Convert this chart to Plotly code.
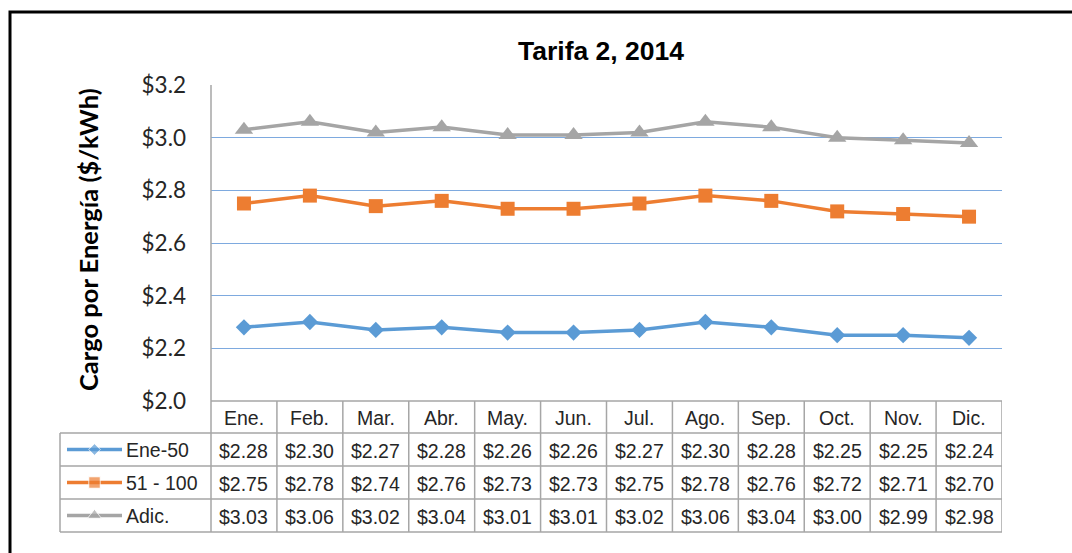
import plotly.graph_objects as go

# ---------------- data ----------------
months = ["Ene.", "Feb.", "Mar.", "Abr.", "May.", "Jun.", "Jul.", "Ago.", "Sep.", "Oct.", "Nov.", "Dic."]
series_names = ["Ene-50", "51 - 100", "Adic."]
ene50 = [2.28, 2.30, 2.27, 2.28, 2.26, 2.26, 2.27, 2.30, 2.28, 2.25, 2.25, 2.24]
s51_100 = [2.75, 2.78, 2.74, 2.76, 2.73, 2.73, 2.75, 2.78, 2.76, 2.72, 2.71, 2.70]
adic = [3.03, 3.06, 3.02, 3.04, 3.01, 3.01, 3.02, 3.06, 3.04, 3.00, 2.99, 2.98]
title_text = "Tarifa 2, 2014"
ytitle_text = "Cargo por Energía ($/kWh)"

# ---------------- styles ----------------
W, H = 1072, 553
colors = ["#5B9BD5", "#ED7D31", "#A5A5A5"]
symbols = ["diamond", "square", "triangle-up"]
msizes = [12.5, 14, 16]
legend_msizes = [9, 11.5, 12.5]
series = [ene50, s51_100, adic]
grid_col = "#7EAADF"
tbl_col = "#A6A6A6"
TFONT = "Arial, Liberation Sans, sans-serif"
CFONT = "Lato, Carlito, Calibri, sans-serif"


def px(x):
    return x / W


def py(y):
    return 1 - y / H


# pixel layout
PL, PR, PT, PB = 211, 1002, 85, 401
TL = 60
rows_y = [401, 433, 466, 499, 532]

fig = go.Figure()
xs = list(range(len(months)))
for name, vals, c, s, ms in zip(series_names, series, colors, symbols, msizes):
    fig.add_trace(go.Scatter(
        x=xs, y=vals, name=name, mode="lines+markers",
        line=dict(color=c, width=3.5),
        marker=dict(symbol=s, size=ms, color=c),
        showlegend=False, hoverinfo="x+y",
        xaxis="x", yaxis="y",
    ))

# legend swatches inside the table's first column
for i, (c, s, ms) in enumerate(zip(colors, symbols, legend_msizes)):
    fig.add_trace(go.Scatter(
        x=[7, 34.5, 62], y=[i + 0.5] * 3, mode="lines+markers",
        line=dict(color=c, width=3.5),
        marker=dict(symbol=s, size=[0, ms, 0], color=c),
        showlegend=False, hoverinfo="skip",
        xaxis="x2", yaxis="y2",
    ))

shapes = []
# outer black frame (right/bottom beyond the visible crop)
shapes.append(dict(type="rect", xref="paper", yref="paper",
                   x0=px(10), x1=1.2, y0=-0.2, y1=py(12),
                   line=dict(color="#000000", width=3), layer="above"))
# table horizontal lines
shapes.append(dict(type="line", xref="paper", yref="paper",
                   x0=px(PL), x1=px(PR), y0=py(rows_y[0]), y1=py(rows_y[0]),
                   line=dict(color=tbl_col, width=1.5), layer="above"))
for yy in rows_y[1:]:
    shapes.append(dict(type="line", xref="paper", yref="paper",
                       x0=px(TL), x1=px(PR), y0=py(yy), y1=py(yy),
                       line=dict(color=tbl_col, width=1.5), layer="above"))
# vertical lines
shapes.append(dict(type="line", xref="paper", yref="paper",
                   x0=px(TL), x1=px(TL), y0=py(rows_y[1]), y1=py(rows_y[-1]),
                   line=dict(color=tbl_col, width=1.5), layer="above"))
shapes.append(dict(type="line", xref="paper", yref="paper",
                   x0=px(PL), x1=px(PL), y0=py(PT), y1=py(rows_y[-1]),
                   line=dict(color=tbl_col, width=1.5), layer="above"))
for k in range(1, len(months) + 1):
    shapes.append(dict(type="line", xref="x", yref="paper",
                       x0=k - 0.5, x1=k - 0.5, y0=py(rows_y[0]), y1=py(rows_y[-1]),
                       line=dict(color=tbl_col, width=1.5), layer="above"))

annotations = []
# title
annotations.append(dict(text=f"<b>{title_text}</b>", xref="paper", yref="paper",
                        x=px(601), y=py(51), showarrow=False,
                        font=dict(family=TFONT, size=26.5, color="#000000"),
                        xanchor="center", yanchor="middle"))
# y-axis title
annotations.append(dict(text=f"<b>{ytitle_text}</b>", xref="paper", yref="paper",
                        x=px(88), y=py(240), showarrow=False, textangle=-90,
                        font=dict(family=CFONT, size=25.5, color="#000000"),
                        xanchor="center", yanchor="middle"))
# header months
hy = (rows_y[0] + rows_y[1]) / 2
TS = 19.5
for i, m in enumerate(months):
    annotations.append(dict(text=m, xref="x", yref="paper", x=i, y=py(hy + 1),
                            showarrow=False, font=dict(family=TFONT, size=TS, color="#262626"),
                            xanchor="center", yanchor="middle"))
# values rows + series labels
for r, (name, vals) in enumerate(zip(series_names, series)):
    cy = (rows_y[r + 1] + rows_y[r + 2]) / 2 + 1
    for i, v in enumerate(vals):
        annotations.append(dict(text=f"${v:.2f}", xref="x", yref="paper", x=i, y=py(cy),
                                showarrow=False, font=dict(family=TFONT, size=TS, color="#262626"),
                                xanchor="center", yanchor="middle"))
    annotations.append(dict(text=name, xref="x2", yref="y2", x=64, y=r + 0.5,
                            showarrow=False, font=dict(family=TFONT, size=TS, color="#262626"),
                            xanchor="left", yanchor="middle"))

fig.update_layout(
    width=W, height=H,
    margin=dict(l=0, r=0, t=0, b=0, pad=0, autoexpand=False),
    paper_bgcolor="white", plot_bgcolor="white",
    showlegend=False,
    xaxis=dict(domain=[px(PL), px(PR)], range=[-0.5, len(months) - 0.5], automargin=False,
               showgrid=False, zeroline=False, showticklabels=False, showline=False,
               fixedrange=True),
    yaxis=dict(domain=[py(PB), py(PT)], range=[2.0, 3.2], dtick=0.2, tick0=2.0, automargin=False,
               tickprefix="$", tickformat=".1f", showgrid=True, gridcolor=grid_col,
               gridwidth=1, zeroline=False, showline=False, ticks="",
               ticklabelstandoff=24,
               tickfont=dict(family=CFONT, size=22.5, color="#262626"), fixedrange=True),
    xaxis2=dict(domain=[px(TL), px(PL)], range=[0, PL - TL], visible=False, fixedrange=True,
                automargin=False, anchor="y2"),
    yaxis2=dict(domain=[py(rows_y[-1]), py(rows_y[1])], range=[3, 0], visible=False,
                fixedrange=True, automargin=False, anchor="x2"),
    shapes=shapes,
    annotations=annotations,
)

fig.write_html("out.html",
               config={"displayModeBar": False},
               post_script="document.body.style.margin='0';document.body.style.padding='0';")
